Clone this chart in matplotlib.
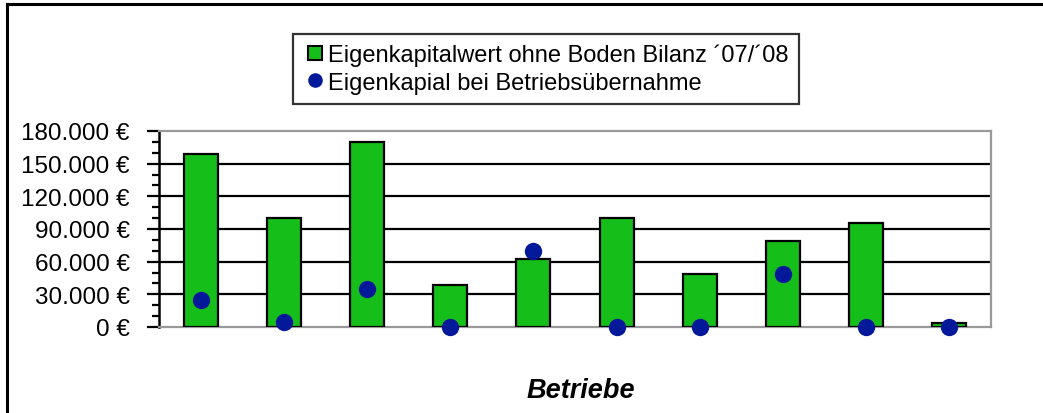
import matplotlib
matplotlib.use("Agg")
import matplotlib.pyplot as plt
from matplotlib.ticker import FuncFormatter, MultipleLocator
from matplotlib.lines import Line2D

plt.rcParams['font.family'] = ['Liberation Sans', 'DejaVu Sans']

# ---- data ----
betriebe = list(range(1, 11))
eigenkapital_bilanz = [159000, 100000, 170000, 39000, 62500, 100000, 48500, 79000, 95500, 4000]
eigenkapital_uebernahme = [25000, 4500, 34500, 0, 70000, 0, 0, 48500, 0, 0]
y_ticks = [0, 30000, 60000, 90000, 120000, 150000, 180000]
series_labels = ["Eigenkapitalwert ohne Boden Bilanz \u00b407/\u00b408",
                 "Eigenkapial bei Betriebs\u00fcbernahme"]
x_title = "Betriebe"

W, H = 1043, 414
fig = plt.figure(figsize=(W / 100, H / 100), dpi=100)

# outer frame
fig.add_artist(Line2D([7 / W, 7 / W], [0, 1 - 5 / H], color='black', lw=2.2,
                      transform=fig.transFigure))
fig.add_artist(Line2D([7 / W, 1], [1 - 5 / H, 1 - 5 / H], color='black', lw=2.2,
                      transform=fig.transFigure))

left, right, top, bottom = 159, 991, 132, 328
ax = fig.add_axes([left / W, 1 - bottom / H, (right - left) / W, (bottom - top) / H])

green = '#15BE18'
blue = '#03199A'

ax.bar(betriebe, eigenkapital_bilanz, width=0.41, color=green, edgecolor='black',
       linewidth=1.6, zorder=3)
ax.plot(betriebe, eigenkapital_uebernahme, linestyle='none', marker='o', markersize=12.5,
        color=blue, markeredgewidth=0, zorder=4, clip_on=False)

ax.set_xlim(0.5, 10.5)
ax.set_ylim(y_ticks[0], y_ticks[-1])
ax.set_yticks(y_ticks)
ax.yaxis.set_minor_locator(MultipleLocator(10000))


def fmt(v, pos):
    if v == 0:
        return "0 \u20ac"
    return "{:,.0f} \u20ac".format(v).replace(",", ".")


ax.yaxis.set_major_formatter(FuncFormatter(fmt))
ax.tick_params(axis='y', which='major', length=9, width=1.6, labelsize=17.5, pad=12, color='black')
ax.tick_params(axis='y', which='minor', length=5, width=1.6, color='black')
ax.tick_params(axis='x', which='both', length=0, labelbottom=False)

for yv in y_ticks[1:-1]:
    ax.axhline(yv, color='black', lw=1.6, zorder=1)

ax.spines['left'].set_color('black')
ax.spines['left'].set_linewidth(1.8)
for s in ['top', 'right', 'bottom']:
    ax.spines[s].set_color('#999999')
    ax.spines[s].set_linewidth(1.6)

handles = [
    Line2D([], [], linestyle='none', marker='s', markersize=9.5, markerfacecolor=green,
           markeredgecolor='black', markeredgewidth=1.5),
    Line2D([], [], linestyle='none', marker='o', markersize=10.5, markerfacecolor=blue,
           markeredgewidth=0),
]
leg = fig.legend(handles, series_labels, loc='upper center',
                 bbox_to_anchor=(546 / W, 1 - 35 / H), fontsize=17,
                 frameon=True, fancybox=False, shadow=False, edgecolor='black',
                 handlelength=1.0, handletextpad=0.05, borderpad=0.42, labelspacing=0.22,
                 borderaxespad=0)
leg.get_frame().set_linewidth(1.6)

fig.text(581 / W, 1 - 398 / H, x_title, ha='center', va='baseline', fontsize=19.5,
         fontweight='bold', fontstyle='italic')

fig.savefig('out.png', dpi=100)
